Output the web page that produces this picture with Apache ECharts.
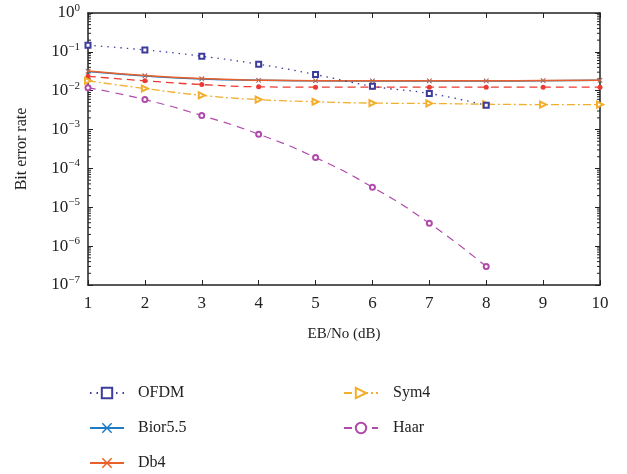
<!DOCTYPE html>
<html><head><meta charset="utf-8">
<script src="https://cdn.jsdelivr.net/npm/echarts@6/dist/echarts.min.js"></script>
<style>html,body{margin:0;padding:0;background:#fff}#c{width:627px;height:474px}</style>
</head><body><div id="c"></div>
<script>
const ebno = [1,2,3,4,5,6,7,8,9,10];
const ofdm  = [0.148,0.112,0.077,0.048,0.026,0.013,0.0085,0.0042];
const bior55= [0.031,0.024,0.020,0.0185,0.018,0.0178,0.0178,0.0178,0.018,0.0185];
const db4   = [0.032,0.0245,0.0205,0.0187,0.018,0.018,0.018,0.018,0.0182,0.0187];
const redDash=[0.0235,0.018,0.0144,0.0126,0.0123,0.0123,0.0123,0.0123,0.0123,0.0123];
const sym4  = [0.018,0.0114,0.0076,0.0059,0.0052,0.0048,0.0047,0.0045,0.0044,0.0044];
const haar  = [0.012,0.0059,0.0023,0.00076,0.00019,3.3e-5,3.9e-6,3.0e-7];
const yDecades = [-7,-6,-5,-4,-3,-2,-1];
const minorMult = [2,3,4,5,6,7,8,9];

const pair = a => a.map((v,i)=>[ebno[i],v]);
const FONT = 'Liberation Serif';
const xSym = 'path://M0,1L1,0L5,4L9,0L10,1L6,5L10,9L9,10L5,6L1,10L0,9L4,5Z';

const minorData = [];
yDecades.forEach(n=>minorMult.forEach(k=>minorData.push([1, k*Math.pow(10,n)])));

function fmt(v){
  const e = Math.round(Math.log10(v));
  return '{b|10}{s|' + String(e).replace('-','\u2212') + '}';
}

const chart = echarts.init(document.getElementById('c'));
chart.setOption({
  animation:false,
  grid:{left:88,right:27,top:13,bottom:189},
  xAxis:[{type:'value',min:1,max:10,interval:1,
    axisLine:{lineStyle:{color:'#222',width:1.5}},
    axisTick:{inside:true,length:5,lineStyle:{color:'#222'}},
    splitLine:{show:false},
    axisLabel:{fontFamily:FONT,fontSize:17,color:'#222',margin:10},
    name:'EB/No (dB)',nameLocation:'middle',nameGap:42,
    nameTextStyle:{fontFamily:FONT,fontSize:15,color:'#222'}},
   {type:'value',min:1,max:10,interval:1,position:'top',
    axisLine:{lineStyle:{color:'#222',width:1.5}},
    axisTick:{inside:true,length:5,lineStyle:{color:'#222'}},
    axisLabel:{show:false},splitLine:{show:false}}],
  yAxis:[{type:'log',min:1e-7,max:1,logBase:10,
    axisLine:{show:true,lineStyle:{color:'#222',width:1.5}},
    axisTick:{show:true,inside:true,length:5,lineStyle:{color:'#222'}},
    splitLine:{show:false},
    axisLabel:{formatter:fmt,margin:8,rich:{
      b:{fontFamily:FONT,fontSize:17,color:'#222'},
      s:{fontFamily:FONT,fontSize:11,color:'#222',verticalAlign:'bottom',padding:[0,0,10,0]}}},
    name:'Bit error rate',nameLocation:'middle',nameGap:58,nameRotate:90,
    nameTextStyle:{fontFamily:FONT,fontSize:16,color:'#222'}},
   {type:'log',min:1e-7,max:1,logBase:10,position:'right',
    axisLine:{show:true,lineStyle:{color:'#222',width:1.5}},
    axisTick:{show:true,inside:true,length:5,lineStyle:{color:'#222'}},
    axisLabel:{show:false},splitLine:{show:false}}],
  legend:[
    {left:89,top:385,orient:'vertical',itemGap:19,itemWidth:34,itemHeight:13,padding:0,
     textStyle:{fontFamily:FONT,fontSize:16,color:'#222',padding:[0,0,0,9]},
     data:['OFDM','Bior5.5','Db4']},
    {left:343,top:385,orient:'vertical',itemGap:19,itemWidth:34,itemHeight:13,padding:0,
     textStyle:{fontFamily:FONT,fontSize:16,color:'#222',padding:[0,0,0,10]},
     data:['Sym4','Haar']}
  ],
  series:[
    {type:'custom',name:'minor',silent:true,clip:false,data:minorData,z:1,
     renderItem:function(params,api){
       const y = api.coord([1, api.value(1)])[1];
       const cs = params.coordSys;
       return {type:'group',children:[
         {type:'line',shape:{x1:cs.x,y1:y,x2:cs.x+3,y2:y},style:{stroke:'#222',lineWidth:1}},
         {type:'line',shape:{x1:cs.x+cs.width-3,y1:y,x2:cs.x+cs.width,y2:y},style:{stroke:'#222',lineWidth:1}}
       ]};
     }},
    {name:'Bior5.5',type:'line',data:pair(bior55),smooth:true,symbol:xSym,symbolSize:5,
     lineStyle:{color:'#1f7bc4',width:1.5},itemStyle:{color:'#1f7bc4'}},
    {name:'Db4',type:'line',data:pair(db4),smooth:true,symbol:xSym,symbolSize:5,
     lineStyle:{color:'#e8602c',width:1.5},itemStyle:{color:'#e8602c'}},
    {name:'Red',type:'line',data:pair(redDash),smooth:true,symbol:'circle',symbolSize:5,
     lineStyle:{color:'#ec3a32',width:1.3,type:[8,5]},itemStyle:{color:'#ec3a32'}},
    {name:'Sym4',type:'line',data:pair(sym4),smooth:true,symbol:'emptyTriangle',symbolRotate:-90,symbolSize:6,
     lineStyle:{color:'#f2ae2e',width:1.3,type:[8,3,2,3]},itemStyle:{color:'#f2ae2e',borderWidth:1.2}},
    {name:'Haar',type:'line',data:pair(haar),smooth:true,symbol:'emptyCircle',symbolSize:5,
     lineStyle:{color:'#b04aac',width:1.2,type:[8,6]},itemStyle:{color:'#b04aac',borderWidth:1.1}},
    {name:'OFDM',type:'line',data:pair(ofdm),smooth:true,symbol:'emptyRect',symbolSize:5,
     lineStyle:{color:'#3c3c9c',width:1.3,type:[1.5,5]},itemStyle:{color:'#3c3c9c',borderWidth:1.1}}
  ]
});
</script></body></html>
